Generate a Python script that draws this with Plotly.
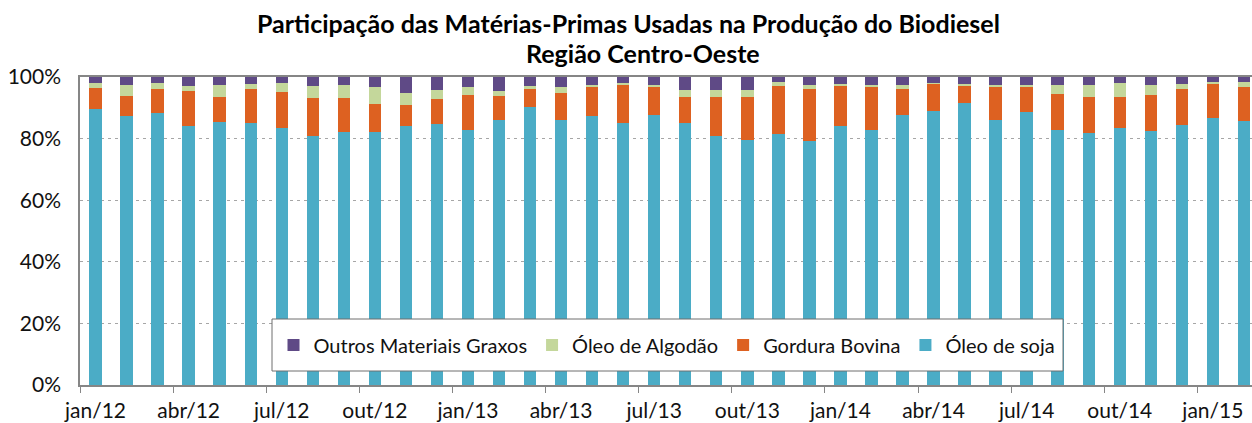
import plotly.graph_objects as go

meses = ["jan/12", "fev/12", "mar/12", "abr/12", "mai/12", "jun/12", "jul/12", "ago/12", "set/12", "out/12", "nov/12", "dez/12",
         "jan/13", "fev/13", "mar/13", "abr/13", "mai/13", "jun/13", "jul/13", "ago/13", "set/13", "out/13", "nov/13", "dez/13",
         "jan/14", "fev/14", "mar/14", "abr/14", "mai/14", "jun/14", "jul/14", "ago/14", "set/14", "out/14", "nov/14", "dez/14",
         "jan/15", "fev/15"]

oleo_soja = [89.7, 87.3, 88.4, 84.0, 85.4, 85.2, 83.4, 80.7, 82.3, 82.0, 84.0, 84.8,
             82.9, 86.0, 90.4, 86.0, 87.4, 85.2, 87.7, 85.2, 80.7, 79.6, 81.5, 79.1,
             84.0, 82.9, 87.7, 89.1, 91.4, 86.0, 88.5, 82.9, 81.9, 83.4, 82.4, 84.3,
             86.8, 85.6]
gordura_bovina = [6.7, 6.5, 7.6, 11.5, 8.2, 10.8, 11.7, 12.5, 10.9, 9.1, 6.9, 8.0,
                  11.4, 7.8, 5.6, 8.7, 9.2, 12.2, 9.3, 8.2, 12.7, 13.8, 15.7, 16.9,
                  13.4, 13.7, 8.5, 8.8, 6.0, 11.0, 8.5, 11.6, 11.7, 10.2, 11.6, 11.9,
                  11.1, 11.0]
oleo_algodao = [1.7, 3.6, 2.1, 1.5, 3.8, 1.7, 2.8, 4.0, 4.2, 5.5, 4.0, 2.9,
                2.5, 1.7, 1.0, 1.9, 0.8, 0.7, 0.4, 2.3, 2.3, 2.3, 1.1, 1.4,
                0.3, 0.8, 1.2, 0.2, 0.3, 0.4, 0.4, 2.9, 3.8, 4.5, 3.4, 1.5,
                0.6, 1.7]
outros_graxos = [1.9, 2.6, 1.9, 3.0, 2.6, 2.3, 2.1, 2.8, 2.6, 3.4, 5.1, 4.3,
                 3.2, 4.5, 3.0, 3.4, 2.6, 1.9, 2.6, 4.3, 4.3, 4.3, 1.7, 2.6,
                 2.3, 2.6, 2.6, 1.9, 2.3, 2.6, 2.6, 2.6, 2.6, 1.9, 2.6, 2.3,
                 1.5, 1.7]

series = [
    ("Óleo de soja", oleo_soja, "#4BACC6"),
    ("Gordura Bovina", gordura_bovina, "#DD6121"),
    ("Óleo de Algodão", oleo_algodao, "#C4D79B"),
    ("Outros Materiais Graxos", outros_graxos, "#5F4A86"),
]

titulo = ["Participação das Matérias-Primas Usadas na Produção do Biodiesel", "Região Centro-Oeste"]

W, H = 1252, 423
L, R, T, B = 80, 0, 77, 38
PH = H - T - B


def py(pixel_y):
    return (H - B - pixel_y) / PH


def px(pixel_x):
    return (pixel_x - L) / (W - L - R)


fig = go.Figure()
for name, vals, color in series:
    fig.add_trace(go.Bar(x=meses, y=vals, name=name, marker=dict(color=color, line=dict(width=0))))

FONT = "Lato, 'Open Sans', sans-serif"

fig.update_layout(
    width=W, height=H,
    barmode="stack", bargap=0.6,
    paper_bgcolor="white", plot_bgcolor="white",
    margin=dict(l=L, r=R, t=T, b=B, autoexpand=False),
    font=dict(family=FONT, size=21, color="#111111"),
    legend=dict(
        orientation="h", traceorder="reversed",
        x=px(667), y=py(345), xanchor="center", yanchor="middle",
        bgcolor="rgba(0,0,0,0)", borderwidth=0,
        font=dict(family=FONT, size=20, color="#111111"),
    ),
    xaxis=dict(
        type="category", range=[-0.5, 37.26], automargin=False,
        tickmode="linear", tick0=0, dtick=3, tickangle=0,
        tickson="boundaries", ticks="outside", ticklen=6, tickcolor="#868686",
        ticklabelstandoff=6,
        showline=True, linecolor="#868686", linewidth=1.5, mirror=True,
        showgrid=False, tickfont=dict(size=21),
    ),
    yaxis=dict(
        range=[0, 100], dtick=20, ticksuffix="%", automargin=False,
        showline=True, linecolor="#868686", linewidth=1.5,
        showgrid=True, gridcolor="#A6A6A6", griddash="3px,4px", gridwidth=1,
        ticks="", zeroline=False, tickfont=dict(size=21),
        ticklabelstandoff=13,
    ),
    shapes=[dict(
        type="rect", xref="paper", yref="paper",
        x0=px(272), x1=px(1063), y0=py(371), y1=py(319),
        fillcolor="white", line=dict(color="#6e6e6e", width=1), layer="above",
    )],
    annotations=[
        dict(text="<b>%s</b>" % titulo[0], xref="paper", yref="paper",
             x=px(628), y=py(23), xanchor="center", yanchor="middle", showarrow=False,
             font=dict(family=FONT, size=25, color="#000000")),
        dict(text="<b>%s</b>" % titulo[1], xref="paper", yref="paper",
             x=px(643), y=py(53), xanchor="center", yanchor="middle", showarrow=False,
             font=dict(family=FONT, size=25, color="#000000")),
    ],
)

fig.write_html("out.html", config={"displayModeBar": False},
               post_script="document.body.style.margin='0px';")
